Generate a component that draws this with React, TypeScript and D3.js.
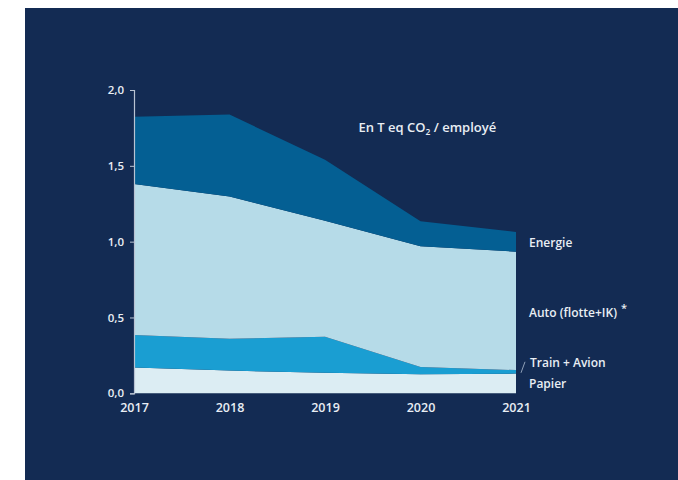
import React, { useEffect, useRef } from 'react';
import * as d3 from 'd3';

// Data (T eq CO2 / employé)
const years = [2017, 2018, 2019, 2020, 2021];
const papier = [0.17, 0.15, 0.135, 0.125, 0.13];
const trainAvion = [0.215, 0.21, 0.238, 0.048, 0.023];
const auto = [0.995, 0.938, 0.765, 0.796, 0.781];
const energie = [0.444, 0.54, 0.402, 0.165, 0.13];

const seriesKeys = ['papier', 'trainAvion', 'auto', 'energie'];
const seriesColors = ['#dcedf3', '#1a9ed2', '#b6dbe8', '#045f93'];
const seriesLabels = ['Papier', 'Train + Avion', 'Auto (flotte+IK)', 'Energie'];
const yTicks = [0, 0.5, 1.0, 1.5, 2.0];

const width = 678;
const height = 480;
const margin = { top: 90, right: 162, bottom: 86.7, left: 134 };

export default function App() {
  const svgRef = useRef<SVGSVGElement>(null);

  useEffect(() => {
    if (!svgRef.current) return;
    d3.select(svgRef.current).selectAll('*').remove();
    const svg = d3.select(svgRef.current);

    const font = '"Open Sans", sans-serif';
    const textColor = '#e9eef4';

    // background panel
    svg.append('rect')
      .attr('x', 25)
      .attr('y', 8)
      .attr('width', width - 25)
      .attr('height', height - 8)
      .attr('fill', '#132b53');

    const innerWidth = width - margin.left - margin.right;
    const innerHeight = height - margin.top - margin.bottom;

    const x = d3.scaleLinear()
      .domain([years[0], years[years.length - 1]])
      .range([0, innerWidth]);

    const y = d3.scaleLinear()
      .domain([0, 2])
      .range([innerHeight, 0]);

    const table = years.map((yr, i) => ({
      year: yr,
      papier: papier[i],
      trainAvion: trainAvion[i],
      auto: auto[i],
      energie: energie[i],
    }));

    const stacked = d3.stack<any>().keys(seriesKeys)(table);

    const g = svg.append('g')
      .attr('transform', `translate(${margin.left},${margin.top})`);

    const area = d3.area<any>()
      .x(d => x(d.data.year))
      .y0(d => y(d[0]))
      .y1(d => y(d[1]));

    g.selectAll('path.layer')
      .data(stacked)
      .enter()
      .append('path')
      .attr('class', 'layer')
      .attr('d', area)
      .attr('fill', (d, i) => seriesColors[i]);

    // y axis
    const yAxis = g.append('g')
      .call(
        d3.axisLeft(y)
          .tickValues(yTicks)
          .tickSize(4)
          .tickPadding(6)
          .tickFormat(d => d3.format('.1f')(d as number).replace('.', ','))
      );
    yAxis.select('.domain').attr('stroke', '#b9c3d2').attr('stroke-width', 1.2);
    yAxis.selectAll('.tick line').attr('stroke', '#b9c3d2');
    yAxis.selectAll('.tick text')
      .attr('fill', textColor)
      .attr('font-family', font)
      .attr('font-weight', 600)
      .attr('font-size', 11.5);

    // x axis labels
    const xAxis = g.append('g')
      .attr('transform', `translate(0,${innerHeight})`)
      .call(
        d3.axisBottom(x)
          .tickValues(years)
          .tickSize(0)
          .tickPadding(10)
          .tickFormat(d3.format('d'))
      );
    xAxis.select('.domain').remove();
    xAxis.selectAll('.tick text')
      .attr('fill', textColor)
      .attr('font-family', font)
      .attr('font-weight', 600)
      .attr('font-size', 12.5);

    // series labels at the right end
    const last = years.length - 1;
    const labelX = x(years[last]) + 13;
    const labelY = [
      y(0) - 5.6,
      y(stacked[1][last][1]) - 3.3,
      y((stacked[2][last][0] + stacked[2][last][1]) / 2) + 5.7,
      y((stacked[3][last][0] + stacked[3][last][1]) / 2) + 4.7,
    ];

    seriesLabels.forEach((label, i) => {
      const t = g.append('text')
        .attr('x', i === 1 ? labelX + 1 : labelX)
        .attr('y', labelY[i])
        .attr('fill', textColor)
        .attr('font-family', font)
        .attr('font-weight', 600)
        .attr('font-size', 12)
        .text(label);
      if (i === 2) {
        t.append('tspan')
          .attr('dx', 4)
          .attr('dy', -5)
          .attr('font-size', 11)
          .text('*');
      }
    });

    // little leader for Train + Avion
    g.append('line')
      .attr('x1', labelX - 8)
      .attr('y1', labelY[1] + 6)
      .attr('x2', labelX - 4)
      .attr('y2', labelY[1] - 5)
      .attr('stroke', '#8fa0b8')
      .attr('stroke-width', 1);

    // unit title
    const title = g.append('text')
      .attr('x', x(2019.35))
      .attr('y', y(1.72))
      .attr('fill', textColor)
      .attr('font-family', font)
      .attr('font-weight', 600)
      .attr('font-size', 13);
    title.append('tspan').text('En T eq CO');
    title.append('tspan').attr('font-size', 8.5).attr('dy', 3).text('2');
    title.append('tspan').attr('dy', -3).text(' / employé');
  }, []);

  return (
    <svg
      ref={svgRef}
      width={width}
      height={height}
      style={{ position: 'absolute', left: 0, top: 0, display: 'block' }}
    />
  );
}
